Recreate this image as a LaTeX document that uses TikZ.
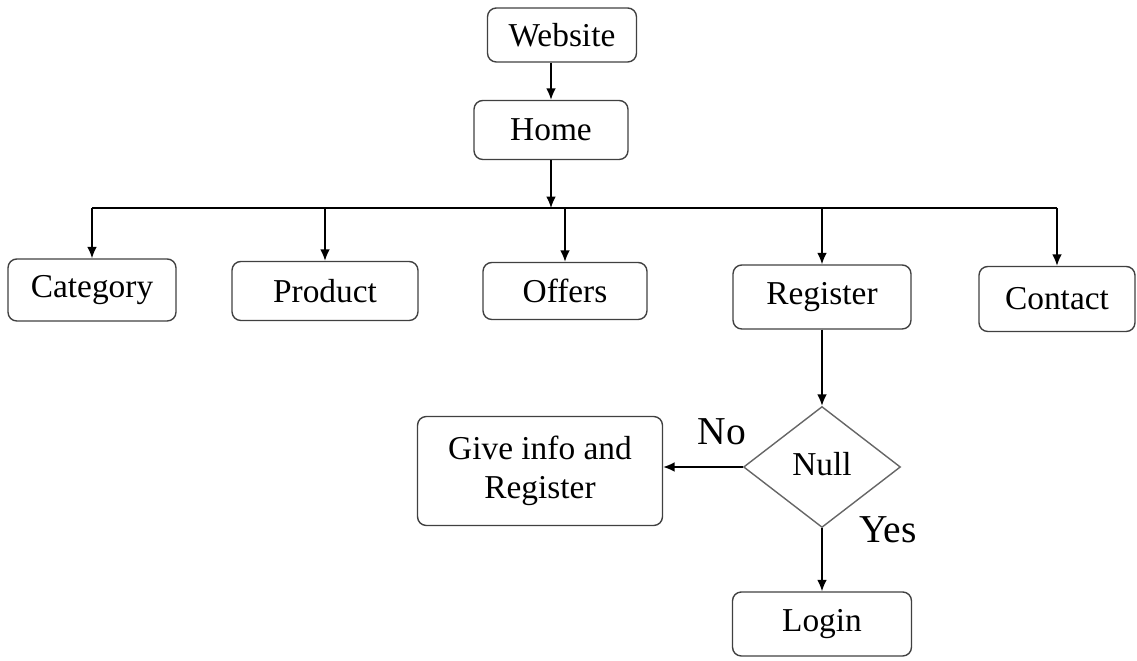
\documentclass[tikz,border=0pt]{standalone}
\usepackage{fontspec}
\setmainfont{Liberation Serif}
\usepackage{tikz}
\usetikzlibrary{positioning,arrows.meta,shapes.geometric,calc}

\begin{document}
\begin{tikzpicture}[
    x=0.02cm, y=-0.02cm,
    font=\fontsize{19}{22}\selectfont,
    >={Latex[length=6.5pt,width=5.5pt]},
    line width=0.8pt,
    block/.style={draw=black!75, rectangle, rounded corners=5pt, align=center, inner sep=2pt},
    decision/.style={draw=black!60, diamond, inner sep=0pt},
    answer/.style={font=\fontsize{22.5}{26}\selectfont}
]
\useasboundingbox (0,0) rectangle (1137,661);

% top of the tree
\node[block, minimum width=2.98cm, minimum height=1.08cm] (website) at (562,35) {Website};
\node[block, minimum width=3.08cm, minimum height=1.18cm] (home) at (551,130) {Home};

% pages under Home
\node[block, minimum width=3.36cm, minimum height=1.24cm] (category) at (92,290) {Category};
\node[block, minimum width=3.72cm, minimum height=1.18cm] (product) at (325,291) {Product};
\node[block, minimum width=3.28cm, minimum height=1.14cm] (offers) at (565,291) {Offers};
\node[block, minimum width=3.56cm, minimum height=1.28cm] (register) at (822,297) {Register};
\node[block, minimum width=3.12cm, minimum height=1.30cm] (contact) at (1057,299) {Contact};

% registration check
\node[decision, minimum width=3.14cm, minimum height=2.42cm] (null) at (822,467) {\raisebox{4pt}{Null}};
\node[block, minimum width=4.90cm, minimum height=2.18cm] (giveinfo) at (540,471) {Give info and\\Register};
\node[block, minimum width=3.58cm, minimum height=1.28cm] (login) at (822,624) {Login};

\node[answer] (no) at (722,432) {No};
\node[answer] (yes) at (888,530) {Yes};

% bus line
\coordinate (barL) at (92,208);
\coordinate (barR) at (1057,208);
\draw (barL) -- (barR);

% connectors
\draw[->] (website.south -| home.north) -- (home.north);
\draw[->] (home.south) -- (home.south |- barL);
\draw[->] (barL) -- (category.north);
\draw[->] (product.north |- barL) -- (product.north);
\draw[->] (offers.north |- barL) -- (offers.north);
\draw[->] (register.north |- barL) -- (register.north);
\draw[->] (barR) -- (contact.north);
\draw[->] (register.south) -- (null.north);
\draw[->] (null.west) -- (null.west -| giveinfo.east);
\draw[->] (null.south) -- (login.north);

\end{tikzpicture}
\end{document}
